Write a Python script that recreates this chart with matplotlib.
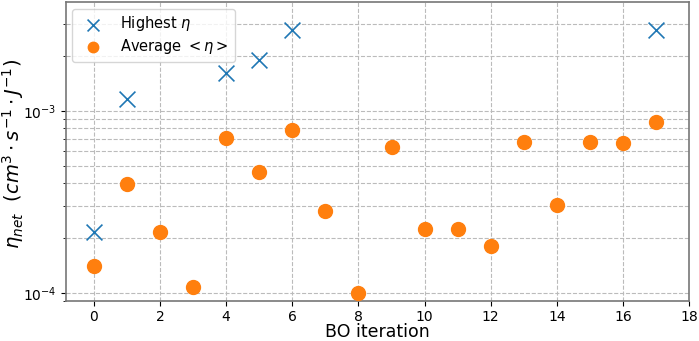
import numpy as np
import matplotlib
matplotlib.use('Agg')
from matplotlib import pyplot as plt

# data
iter_high = [0, 1, 4, 5, 6, 17]
eta_high = [2.16e-4, 1.16e-3, 1.62e-3, 1.90e-3, 2.76e-3, 2.78e-3]

iter_avg = list(range(18))
eta_avg = [1.41e-4, 3.95e-4, 2.15e-4, 1.08e-4, 7.08e-4, 4.61e-4, 7.84e-4, 2.81e-4, 1.0e-4,
           6.33e-4, 2.26e-4, 2.26e-4, 1.81e-4, 6.73e-4, 3.03e-4, 6.73e-4, 6.68e-4, 8.71e-4]

fig = plt.figure(figsize=(6.99, 3.41), dpi=100)
ax = fig.add_axes([0.094, 0.116, 0.892, 0.878])

ax.scatter(iter_high, eta_high, marker='x', s=130, color='tab:blue', linewidths=1.2, label=r'Highest $\eta$', zorder=3)
ax.scatter(iter_avg, eta_avg, marker='o', s=100, color='tab:orange', label=r'Average $<\eta>$', zorder=3)

ax.set_yscale('log')
ax.set_xlim(-0.85, 18)
ax.set_ylim(9.0e-5, 3.95e-3)
ax.set_xticks(range(0, 19, 2))

ax.grid(True, which='major', linestyle='--', color='#bbbbbb', linewidth=0.8)
ax.grid(True, which='minor', axis='y', linestyle='--', color='#bbbbbb', linewidth=0.8)
ax.set_axisbelow(True)

for s in ax.spines.values():
    s.set_color('#777777')
    s.set_linewidth(1.2)

ax.tick_params(labelsize=10, pad=3)
ax.set_xlabel('BO iteration', fontsize=12.5)
ax.set_ylabel(r'$\eta_{net}$  $(cm^3 \cdot s^{-1} \cdot J^{-1})$', fontsize=14)
ax.xaxis.set_label_coords(0.5, -0.072)
ax.yaxis.label.set_va('center')
ax.yaxis.set_label_coords(-0.085, 0.492)

ax.legend(loc='upper left', fontsize=10.5, borderaxespad=0.45, handletextpad=0.9,
          labelspacing=0.25, markerscale=0.75)

fig.savefig('out.png', dpi=100)
